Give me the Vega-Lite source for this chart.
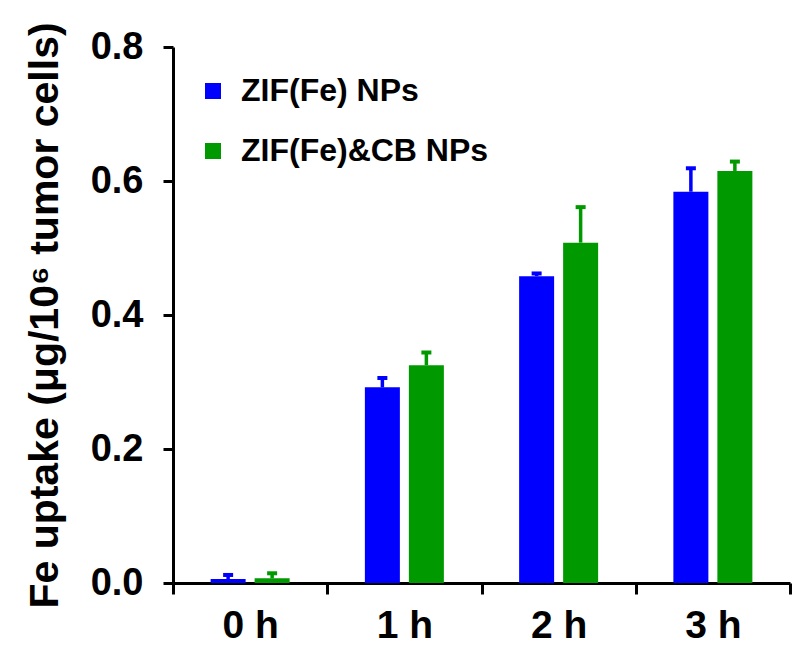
{
  "$schema": "https://vega.github.io/schema/vega-lite/v6.json",
  "autosize": {"type": "none"},
  "padding": {"left": 173, "top": 47, "right": 2, "bottom": 65},
  "width": 617,
  "height": 536,
  "background": "white",
  "config": {
    "view": {"stroke": null},
    "font": "Liberation Sans"
  },
  "data": {
    "values": [
      {"time": "0 h", "group": "ZIF(Fe) NPs", "value": 0.006, "upper": 0.012},
      {"time": "0 h", "group": "ZIF(Fe)&CB NPs", "value": 0.007, "upper": 0.0145},
      {"time": "1 h", "group": "ZIF(Fe) NPs", "value": 0.292, "upper": 0.306},
      {"time": "1 h", "group": "ZIF(Fe)&CB NPs", "value": 0.325, "upper": 0.344},
      {"time": "2 h", "group": "ZIF(Fe) NPs", "value": 0.458, "upper": 0.462},
      {"time": "2 h", "group": "ZIF(Fe)&CB NPs", "value": 0.508, "upper": 0.561},
      {"time": "3 h", "group": "ZIF(Fe) NPs", "value": 0.584, "upper": 0.619},
      {"time": "3 h", "group": "ZIF(Fe)&CB NPs", "value": 0.615, "upper": 0.629}
    ]
  },
  "encoding": {
    "x": {
      "field": "time",
      "type": "nominal",
      "sort": ["0 h", "1 h", "2 h", "3 h"],
      "scale": {"paddingInner": 0, "paddingOuter": 0},
      "axis": {
        "title": null,
        "labelAngle": 0,
        "labelFont": "Liberation Sans",
        "labelFontWeight": "bold",
        "labelFontSize": 39,
        "labelColor": "black",
        "labelPadding": 12,
        "domainColor": "black",
        "domainWidth": 3,
        "tickBand": "extent",
        "tickColor": "black",
        "tickWidth": 3,
        "tickSize": 11
      }
    },
    "xOffset": {
      "field": "group",
      "type": "nominal",
      "sort": ["ZIF(Fe) NPs", "ZIF(Fe)&CB NPs"],
      "scale": {"paddingInner": 0.2045, "paddingOuter": 0.855}
    },
    "color": {
      "field": "group",
      "type": "nominal",
      "scale": {
        "domain": ["ZIF(Fe) NPs", "ZIF(Fe)&CB NPs"],
        "range": ["#0000FF", "#009900"]
      },
      "legend": {
        "title": null,
        "orient": "none",
        "legendX": 24,
        "legendY": 28,
        "symbolType": "square",
        "symbolSize": 256,
        "symbolStrokeWidth": 0,
        "symbolOpacity": 1,
        "labelFont": "Liberation Sans",
        "labelFontWeight": "bold",
        "labelFontSize": 32,
        "labelColor": "black",
        "labelOffset": 12,
        "labelLimit": 0,
        "rowPadding": 28,
        "padding": 0
      }
    }
  },
  "layer": [
    {
      "mark": {"type": "bar", "opacity": 1},
      "encoding": {
        "y": {
          "field": "value",
          "type": "quantitative",
          "scale": {"domain": [0, 0.8], "nice": false},
          "axis": {
            "title": "Fe uptake (μg/10⁶ tumor cells)",
            "titleFont": "Liberation Sans",
            "titleFontWeight": "bold",
            "titleFontSize": 41,
            "titleColor": "black",
            "titlePadding": 24,
            "values": [0, 0.2, 0.4, 0.6, 0.8],
            "format": ".1f",
            "grid": false,
            "labelFont": "Liberation Sans",
            "labelFontWeight": "bold",
            "labelFontSize": 38,
            "labelColor": "black",
            "labelPadding": 20,
            "domainColor": "black",
            "domainWidth": 3,
            "tickColor": "black",
            "tickWidth": 3,
            "tickSize": 10
          }
        }
      }
    },
    {
      "mark": {"type": "rule", "strokeWidth": 3.5},
      "encoding": {
        "y": {"field": "value", "type": "quantitative"},
        "y2": {"field": "upper"}
      }
    },
    {
      "mark": {"type": "tick", "thickness": 4, "size": 10, "opacity": 1},
      "encoding": {
        "y": {"field": "upper", "type": "quantitative"}
      }
    }
  ]
}
